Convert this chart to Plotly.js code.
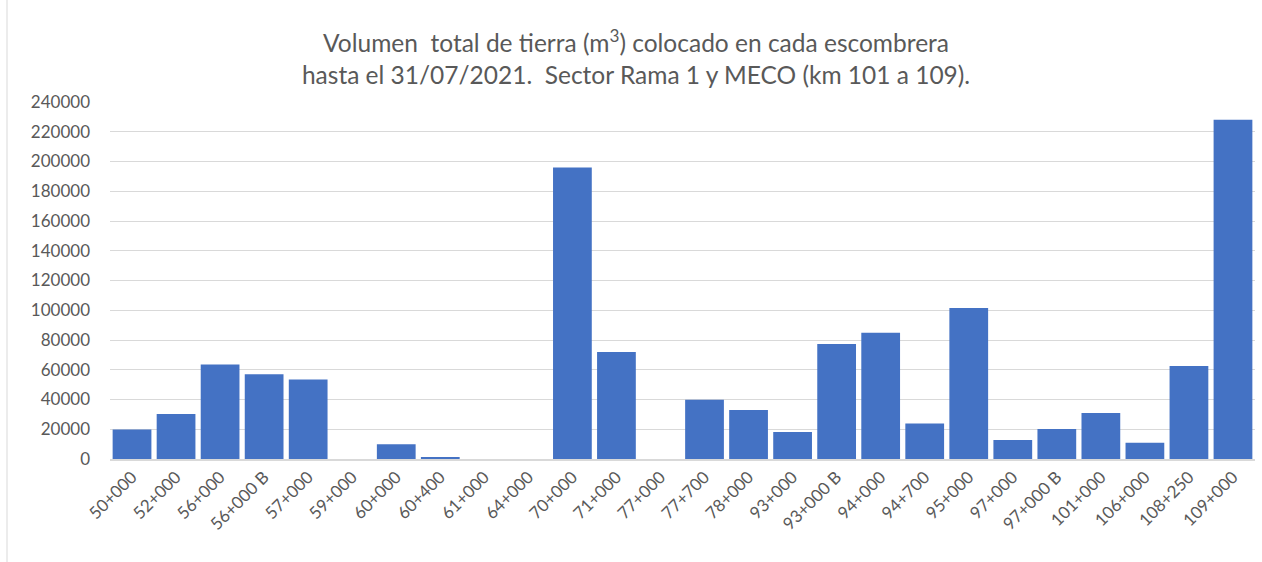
<!DOCTYPE html>
<html>
<head>
<meta charset="utf-8">
<script src="https://cdn.plot.ly/plotly-3.0.1.min.js"></script>
<style>html,body{margin:0;padding:0;background:#fff;}#chart{width:1262px;height:562px;}</style>
</head>
<body>
<div id="chart"></div>
<script>
const categories = ["50+000","52+000","56+000","56+000 B","57+000","59+000","60+000","60+400","61+000","64+000","70+000","71+000","77+000","77+700","78+000","93+000","93+000 B","94+000","94+700","95+000","97+000","97+000 B","101+000","106+000","108+250","109+000"];
const volumes = [19800,30200,63500,57000,53500,0,10000,1300,0,0,196000,72000,0,39800,33000,18200,77300,84800,23800,101500,12800,20200,30900,10900,62500,228000];
const yTicks = [0,20000,40000,60000,80000,100000,120000,140000,160000,180000,200000,220000,240000];

const font = "Lato, 'Open Sans', 'Liberation Sans', sans-serif";
Plotly.newPlot('chart', [{
  type: 'bar',
  x: categories,
  y: volumes,
  marker: {color: '#4472C4', line: {width: 0}},
  hoverinfo: 'x+y'
}], {
  width: 1262, height: 562,
  margin: {l: 110, r: 7, t: 102, b: 103},
  paper_bgcolor: '#ffffff', plot_bgcolor: '#ffffff',
  bargap: 0.12,
  showlegend: false,
  title: {
    text: 'Volumen  total de tierra (m<sup>3</sup>) colocado en cada escombrera<br>hasta el 31/07/2021.  Sector Rama 1 y MECO (km 101 a 109).',
    font: {family: font, size: 24.5, color: '#595959'},
    x: 0.504, xanchor: 'center', y: 0.907, yanchor: 'middle'
  },
  xaxis: {
    type: 'category',
    tickangle: -45,
    tickfont: {family: font, size: 17, color: '#595959'},
    showgrid: false,
    showline: true, linecolor: '#d9d9d9', linewidth: 1.5,
    ticks: '', automargin: false
  },
  yaxis: {
    range: [0, 240000],
    tickvals: yTicks,
    ticktext: yTicks.map(String),
    tickfont: {family: font, size: 17, color: '#595959'},
    showgrid: true, gridcolor: '#d9d9d9', gridwidth: 1,
    zeroline: false, showline: false, ticks: '',
    ticklabelstandoff: 19,
    automargin: false
  },
  shapes: [{
    type: 'line', xref: 'paper', yref: 'paper',
    x0: -103/1145, x1: -103/1145, y0: -103/357, y1: 1 + 102/357,
    line: {color: '#d9d9d9', width: 1}
  }]
}, {displayModeBar: false, staticPlot: true});
</script>
</body>
</html>
